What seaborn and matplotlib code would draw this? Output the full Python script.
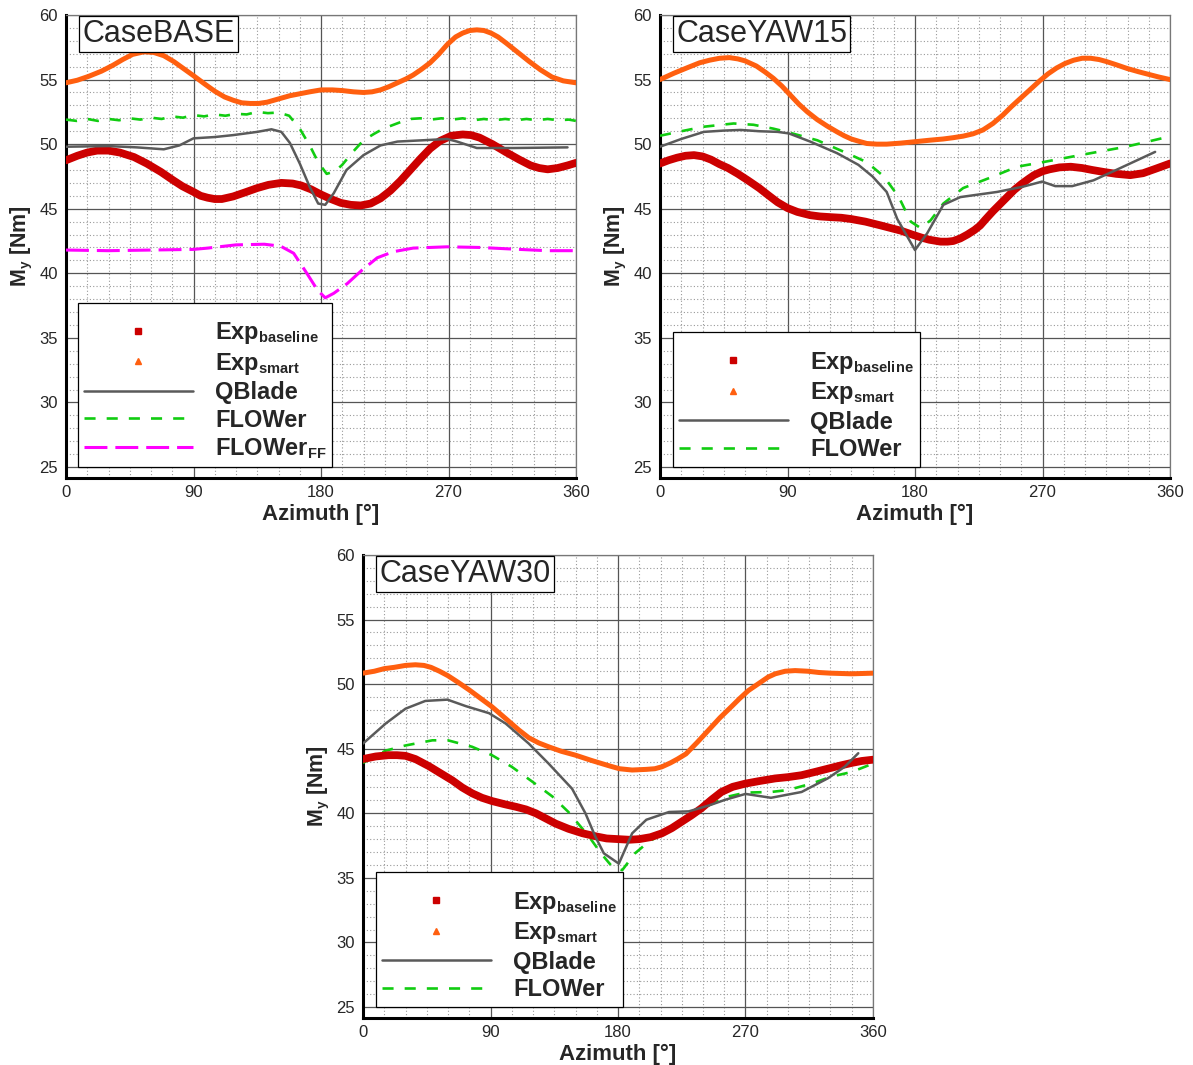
import numpy as np
import pandas as pd
import matplotlib
matplotlib.use("Agg")
import matplotlib.pyplot as plt
import matplotlib.transforms as mtransforms
import matplotlib._mathtext as _mt
from matplotlib.lines import Line2D
from matplotlib.ticker import MultipleLocator
import seaborn as sns

# smaller subscripts, like the reference legend
_mt.SHRINK_FACTOR = 0.62

# ---------------- DATA ----------------
# CaseBASE
base_smart_az = [0, 8, 16, 25, 33, 40, 47, 55, 62, 69, 76, 83, 90, 98, 105, 112, 118, 124, 130, 136, 142, 150, 158, 165, 172, 180, 188, 195, 203, 210, 216, 222, 228, 235, 240, 245, 251, 257, 263, 269, 275, 280, 285, 290, 295, 300, 305, 311, 319, 327, 335, 343, 351, 360]
base_smart = [54.75, 54.95, 55.25, 55.65, 56.1, 56.55, 56.95, 57.15, 57.1, 56.85, 56.4, 55.85, 55.3, 54.65, 54.1, 53.65, 53.4, 53.2, 53.15, 53.15, 53.25, 53.5, 53.75, 53.9, 54.05, 54.2, 54.2, 54.15, 54.05, 54.0, 54.05, 54.2, 54.45, 54.8, 55.05, 55.35, 55.8, 56.3, 56.95, 57.7, 58.3, 58.6, 58.8, 58.85, 58.8, 58.6, 58.3, 57.8, 57.1, 56.4, 55.75, 55.2, 54.9, 54.75]
base_base_az = [0, 8, 15, 22, 30, 38, 48, 57, 67, 75, 82, 90, 95, 100, 105, 110, 118, 126, 135, 143, 152, 160, 166, 173, 180, 187, 194, 201, 208, 215, 222, 229, 236, 243, 250, 257, 264, 272, 280, 286, 292, 301, 311, 320, 328, 334, 340, 347, 354, 360]
base_base = [48.75, 49.1, 49.35, 49.5, 49.5, 49.35, 49.0, 48.5, 47.85, 47.25, 46.75, 46.3, 46.0, 45.85, 45.75, 45.75, 45.95, 46.25, 46.6, 46.85, 47.0, 46.95, 46.8, 46.5, 46.1, 45.75, 45.45, 45.3, 45.25, 45.4, 45.8, 46.4, 47.15, 48.0, 48.85, 49.65, 50.25, 50.65, 50.75, 50.7, 50.5, 50.0, 49.35, 48.8, 48.35, 48.15, 48.05, 48.15, 48.35, 48.55]
base_qb_az = [0, 30, 50, 69, 80, 90, 105, 118, 135, 145, 152, 158, 165, 172, 178, 183, 189, 198, 210, 222, 234, 252, 269, 276, 290, 316, 354]
base_qb = [49.8, 49.85, 49.75, 49.6, 49.9, 50.45, 50.55, 50.7, 50.95, 51.15, 50.95, 50.1, 48.5, 46.7, 45.4, 45.3, 46.2, 48.0, 49.15, 49.9, 50.2, 50.3, 50.4, 50.2, 49.7, 49.7, 49.75]
base_fl_az = [0, 7.5, 15, 22.5, 30, 37.5, 45, 52.5, 60, 67.5, 75, 82.5, 90, 97.5, 105, 112.5, 120, 127.5, 135, 142.5, 150, 157.5, 165, 172.5, 178, 184, 190, 195, 202.5, 210, 217.5, 224, 236, 243, 250, 257.5, 265, 272.5, 280, 287.5, 295, 302.5, 310, 317.5, 325, 332.5, 340, 347.5, 355, 360]
base_fl = [51.9, 51.8, 51.95, 51.8, 51.95, 51.85, 52.0, 51.9, 52.05, 51.95, 52.15, 52.05, 52.25, 52.15, 52.3, 52.2, 52.35, 52.3, 52.5, 52.4, 52.45, 52.2, 51.2, 49.8, 48.6, 47.7, 47.9, 48.4, 49.4, 50.3, 50.8, 51.2, 51.7, 51.95, 52.0, 51.9, 52.0, 51.9, 52.0, 51.85, 51.95, 51.85, 51.95, 51.85, 51.95, 51.85, 51.95, 51.85, 51.9, 51.8]
base_ff_az = [0, 30, 60, 90, 100, 120, 140, 151.5, 160.7, 170, 177.5, 183, 189, 198.5, 209, 219.7, 231, 245, 269, 292, 316, 339.5, 360]
base_ff = [41.8, 41.75, 41.8, 41.85, 41.95, 42.2, 42.25, 42.1, 41.55, 40.0, 38.7, 38.1, 38.45, 39.2, 40.25, 41.2, 41.67, 41.95, 42.05, 42.0, 41.87, 41.75, 41.75]

# CaseYAW15
y15_smart_az = [0, 10, 20, 28, 35, 42, 49, 55, 60, 68, 74, 80, 86, 92, 98, 104, 111, 118, 125, 130, 135, 141, 146, 153, 160, 170, 181, 190, 200, 207, 214, 221, 228, 235, 242, 248, 255, 262, 268, 274, 280, 286, 292, 298, 304, 310, 315, 322, 330, 338, 345, 352, 360]
y15_smart = [55.0, 55.5, 55.95, 56.3, 56.5, 56.65, 56.7, 56.6, 56.45, 56.05, 55.6, 55.1, 54.5, 53.8, 53.1, 52.5, 51.9, 51.4, 50.95, 50.65, 50.4, 50.2, 50.05, 50.0, 50.0, 50.08, 50.2, 50.3, 50.4, 50.5, 50.62, 50.8, 51.1, 51.6, 52.25, 52.9, 53.6, 54.3, 54.9, 55.45, 55.9, 56.25, 56.5, 56.65, 56.65, 56.55, 56.4, 56.15, 55.85, 55.6, 55.4, 55.2, 55.0]
y15_base_az = [0, 6, 12, 18, 24, 30, 36, 42, 48, 55, 62, 70, 77, 83, 90, 97, 106, 113, 120, 128, 135, 145, 156, 163, 170, 179, 185, 190, 198, 203, 207, 212, 217, 222, 226, 230, 235, 240, 245, 250, 255, 260, 264, 270, 275, 282, 290, 298, 305, 313, 322, 332, 341, 350, 355, 360]
y15_base = [48.5, 48.75, 48.95, 49.1, 49.15, 49.05, 48.8, 48.45, 48.15, 47.7, 47.2, 46.6, 46.0, 45.5, 45.05, 44.75, 44.5, 44.4, 44.35, 44.3, 44.2, 44.0, 43.7, 43.5, 43.3, 42.96, 42.75, 42.6, 42.45, 42.45, 42.5, 42.7, 43.0, 43.35, 43.7, 44.2, 44.8, 45.35, 45.9, 46.45, 46.9, 47.3, 47.6, 47.9, 48.05, 48.2, 48.25, 48.15, 48.0, 47.85, 47.7, 47.6, 47.75, 48.1, 48.3, 48.5]
y15_qb_az = [0, 15, 31, 45, 57, 70, 83, 91, 106, 125, 140, 150, 160, 167.5, 180, 188.6, 200, 212, 238, 256, 269.7, 279, 291, 306, 322, 349.5]
y15_qb = [49.8, 50.4, 50.95, 51.05, 51.1, 51.0, 50.95, 50.83, 50.2, 49.3, 48.4, 47.5, 46.3, 44.2, 41.8, 43.1, 45.3, 45.9, 46.3, 46.7, 47.1, 46.75, 46.75, 47.2, 48.0, 49.4]
y15_fl_az = [0, 15, 31, 52, 66, 80, 91, 111, 132, 146, 158, 168.6, 177, 184, 191, 200, 214, 233, 252, 270, 299, 329, 360]
y15_fl = [50.65, 51.0, 51.35, 51.6, 51.5, 51.2, 50.9, 50.3, 49.3, 48.6, 47.5, 45.9, 44.0, 43.5, 44.1, 45.4, 46.6, 47.4, 48.25, 48.6, 49.2, 49.8, 50.6]

# CaseYAW30
y30_smart_az = [0, 8, 15, 22, 30, 37, 43, 48, 54, 60, 67, 75, 83, 91, 100, 110, 117, 124, 131, 140, 150, 161, 173, 181, 190, 200, 206, 211, 217, 222, 228, 236, 244, 252, 260, 266, 272, 280, 286, 291, 298, 305, 314, 322, 330, 345, 360]
y30_smart = [50.85, 51.0, 51.2, 51.3, 51.45, 51.5, 51.45, 51.3, 51.0, 50.65, 50.15, 49.55, 48.9, 48.25, 47.4, 46.45, 45.85, 45.45, 45.15, 44.8, 44.5, 44.1, 43.7, 43.45, 43.35, 43.4, 43.45, 43.6, 43.9, 44.2, 44.6, 45.5, 46.45, 47.4, 48.25, 48.9, 49.5, 50.1, 50.55, 50.8, 51.0, 51.05, 51.0, 50.9, 50.85, 50.8, 50.85]
y30_base_az = [0, 9, 18, 24, 30, 37, 46.5, 54, 63, 70, 77, 84, 91, 100, 108, 115, 122, 129, 136, 145, 155, 165, 172, 180, 188, 195, 203, 211, 218, 225, 232, 239, 246, 253, 261, 270, 280, 291, 300, 309.6, 319, 328, 337, 345, 352, 360]
y30_base = [44.2, 44.4, 44.5, 44.5, 44.45, 44.2, 43.65, 43.15, 42.55, 42.0, 41.55, 41.2, 40.95, 40.7, 40.5, 40.3, 40.0, 39.6, 39.2, 38.8, 38.45, 38.2, 38.05, 38.0, 37.95, 38.0, 38.15, 38.45, 38.85, 39.35, 39.85, 40.4, 41.05, 41.65, 42.05, 42.3, 42.5, 42.7, 42.8, 42.95, 43.2, 43.45, 43.7, 43.9, 44.05, 44.15]
y30_qb_az = [0, 16, 30, 44, 59.6, 72.5, 89, 100.7, 117, 131, 147.6, 157, 164, 170, 180.6, 190, 200, 216, 230, 244, 255.8, 270, 288, 309.6, 328, 340, 349.6]
y30_qb = [45.4, 46.95, 48.1, 48.7, 48.8, 48.3, 47.75, 46.95, 45.4, 43.85, 41.9, 40.0, 38.2, 36.9, 36.1, 38.45, 39.5, 40.1, 40.15, 40.6, 41.05, 41.5, 41.2, 41.65, 42.7, 43.6, 44.65]
y30_fl_az = [0, 16, 30, 49, 60, 77, 91, 105, 119.5, 133.7, 145, 159.5, 168, 176, 183, 192, 201.7, 216, 241.6, 258, 270, 288, 300, 316.6, 331, 345, 360]
y30_fl = [43.9, 44.85, 45.25, 45.65, 45.65, 45.15, 44.5, 43.6, 42.45, 41.3, 40.1, 38.2, 36.9, 35.85, 35.6, 36.9, 37.8, 38.7, 40.5, 41.3, 41.6, 41.65, 41.8, 42.3, 42.85, 43.2, 43.85]

case_titles = ["CaseBASE", "CaseYAW15", "CaseYAW30"]
x_ticks = [0, 90, 180, 270, 360]
y_ticks = [25, 30, 35, 40, 45, 50, 55, 60]

# ---------------- STYLE ----------------
sns.set_style("white")
plt.rcParams["font.family"] = ["Liberation Sans", "DejaVu Sans"]
plt.rcParams["mathtext.fontset"] = "custom"
plt.rcParams["mathtext.rm"] = "Liberation Sans"
plt.rcParams["mathtext.bf"] = "Liberation Sans:bold"
plt.rcParams["mathtext.it"] = "Liberation Sans:italic"

C_RED = "#cc0000"
C_ORANGE = "#ff5f0f"
C_GRAY = "#5a5a5a"
C_GREEN = "#11cc11"
C_MAG = "#ff00ff"

fig = plt.figure(figsize=(11.93, 10.65), dpi=100)
W, H = 1193.0, 1065.0
YMIN = 25 - 11 / 12.914

axes_px = [(66, 15), (660, 15), (363, 555)]
axes = [fig.add_axes([l / W, 1 - (t + 463) / H, 510 / W, 463 / H]) for l, t in axes_px]

panels = [
    dict(smart=(base_smart_az, base_smart), base=(base_base_az, base_base),
         qb=(base_qb_az, base_qb), fl=(base_fl_az, base_fl), ff=(base_ff_az, base_ff)),
    dict(smart=(y15_smart_az, y15_smart), base=(y15_base_az, y15_base),
         qb=(y15_qb_az, y15_qb), fl=(y15_fl_az, y15_fl), ff=None),
    dict(smart=(y30_smart_az, y30_smart), base=(y30_base_az, y30_base),
         qb=(y30_qb_az, y30_qb), fl=(y30_fl_az, y30_fl), ff=None),
]

legend_left_px = [78, 673, 376]

for ax, pdata, title, lx, (axl, axt) in zip(axes, panels, case_titles, legend_left_px, axes_px):
    ax.set_xlim(0, 360)
    ax.set_ylim(YMIN, 60)
    ax.xaxis.set_minor_locator(MultipleLocator(15))
    ax.yaxis.set_minor_locator(MultipleLocator(1))
    ax.set_xticks(x_ticks)
    ax.set_yticks(y_ticks)
    ax.grid(which="major", color="#555555", lw=0.9, ls="-", zorder=0)
    ax.grid(which="minor", color="#999999", lw=0.8, ls=(0, (1, 2)), zorder=0)
    ax.set_axisbelow(True)

    # curves
    sns.lineplot(x=pdata["fl"][0], y=pdata["fl"][1], ax=ax, color=C_GREEN, lw=1.9,
                 zorder=3).lines[-1].set_dashes((4.2, 4.2))
    if pdata["ff"] is not None:
        sns.lineplot(x=pdata["ff"][0], y=pdata["ff"][1], ax=ax, color=C_MAG, lw=2.2,
                     zorder=3).lines[-1].set_dashes((7.5, 2.6))
    sns.lineplot(x=pdata["smart"][0], y=pdata["smart"][1], ax=ax, color=C_ORANGE, lw=3.6,
                 zorder=4, solid_joinstyle="round", solid_capstyle="round")
    sns.lineplot(x=pdata["base"][0], y=pdata["base"][1], ax=ax, color=C_RED, lw=5.6,
                 zorder=4, solid_joinstyle="round", solid_capstyle="round")
    sns.lineplot(x=pdata["qb"][0], y=pdata["qb"][1], ax=ax, color=C_GRAY, lw=1.8, zorder=5)

    # spines
    for s in ["top", "right"]:
        ax.spines[s].set_color("#777777")
        ax.spines[s].set_linewidth(0.9)
    for s in ["left", "bottom"]:
        ax.spines[s].set_color("black")
        ax.spines[s].set_linewidth(2.2)

    ax.tick_params(which="major", direction="in", length=8, width=2.0, color="black",
                   labelsize=12, pad=6, top=False, right=False)
    ax.tick_params(which="minor", direction="in", length=3.5, width=0.9, color="black",
                   top=False, right=False)
    ax.tick_params(axis="x", which="major", pad=5)

    ax.set_xlabel("Azimuth [°]", fontsize=16, fontweight="bold", labelpad=3)
    ax.set_ylabel(r"$\mathbf{M}_{\mathbf{y}}$ [Nm]", fontsize=15.5, fontweight="bold", labelpad=3)

    # title box
    ax.text(0.032, 0.992, title, transform=ax.transAxes, ha="left", va="top",
            fontsize=22, zorder=10,
            bbox=dict(boxstyle="square,pad=0.1", fc="white", ec="black", lw=0.9))

    # legend
    handles = [
        Line2D([], [], ls="none", marker="s", color=C_RED, markersize=4.5),
        Line2D([], [], ls="none", marker="^", color=C_ORANGE, markersize=4.5),
        Line2D([], [], color=C_GRAY, lw=1.8),
        Line2D([], [], color=C_GREEN, lw=1.9, dashes=(4.2, 4.2)),
    ]
    labels = [r"$\mathbf{Exp}_{\mathbf{baseline}}$", r"$\mathbf{Exp}_{\mathbf{smart}}$",
              "QBlade", "FLOWer"]
    if pdata["ff"] is not None:
        handles.append(Line2D([], [], color=C_MAG, lw=2.2, dashes=(7.5, 2.6)))
        labels.append(r"$\mathbf{FLOWer}_{\mathbf{FF}}$")
    trans = mtransforms.blended_transform_factory(ax.transAxes, ax.transData)
    leg = ax.legend(handles, labels, loc="lower left",
                    bbox_to_anchor=((lx - axl) / 510, 25),
                    bbox_transform=trans, borderaxespad=0, frameon=True, fancybox=False,
                    edgecolor="black", framealpha=1, handlelength=4.6, handletextpad=0.95,
                    borderpad=0.25, labelspacing=0.19, title=" ", title_fontsize=5,
                    prop=dict(family="Liberation Sans", weight="bold", size=17))
    leg.get_frame().set_linewidth(0.9)
    leg.set_zorder(12)

fig.savefig("out.png", dpi=100)
